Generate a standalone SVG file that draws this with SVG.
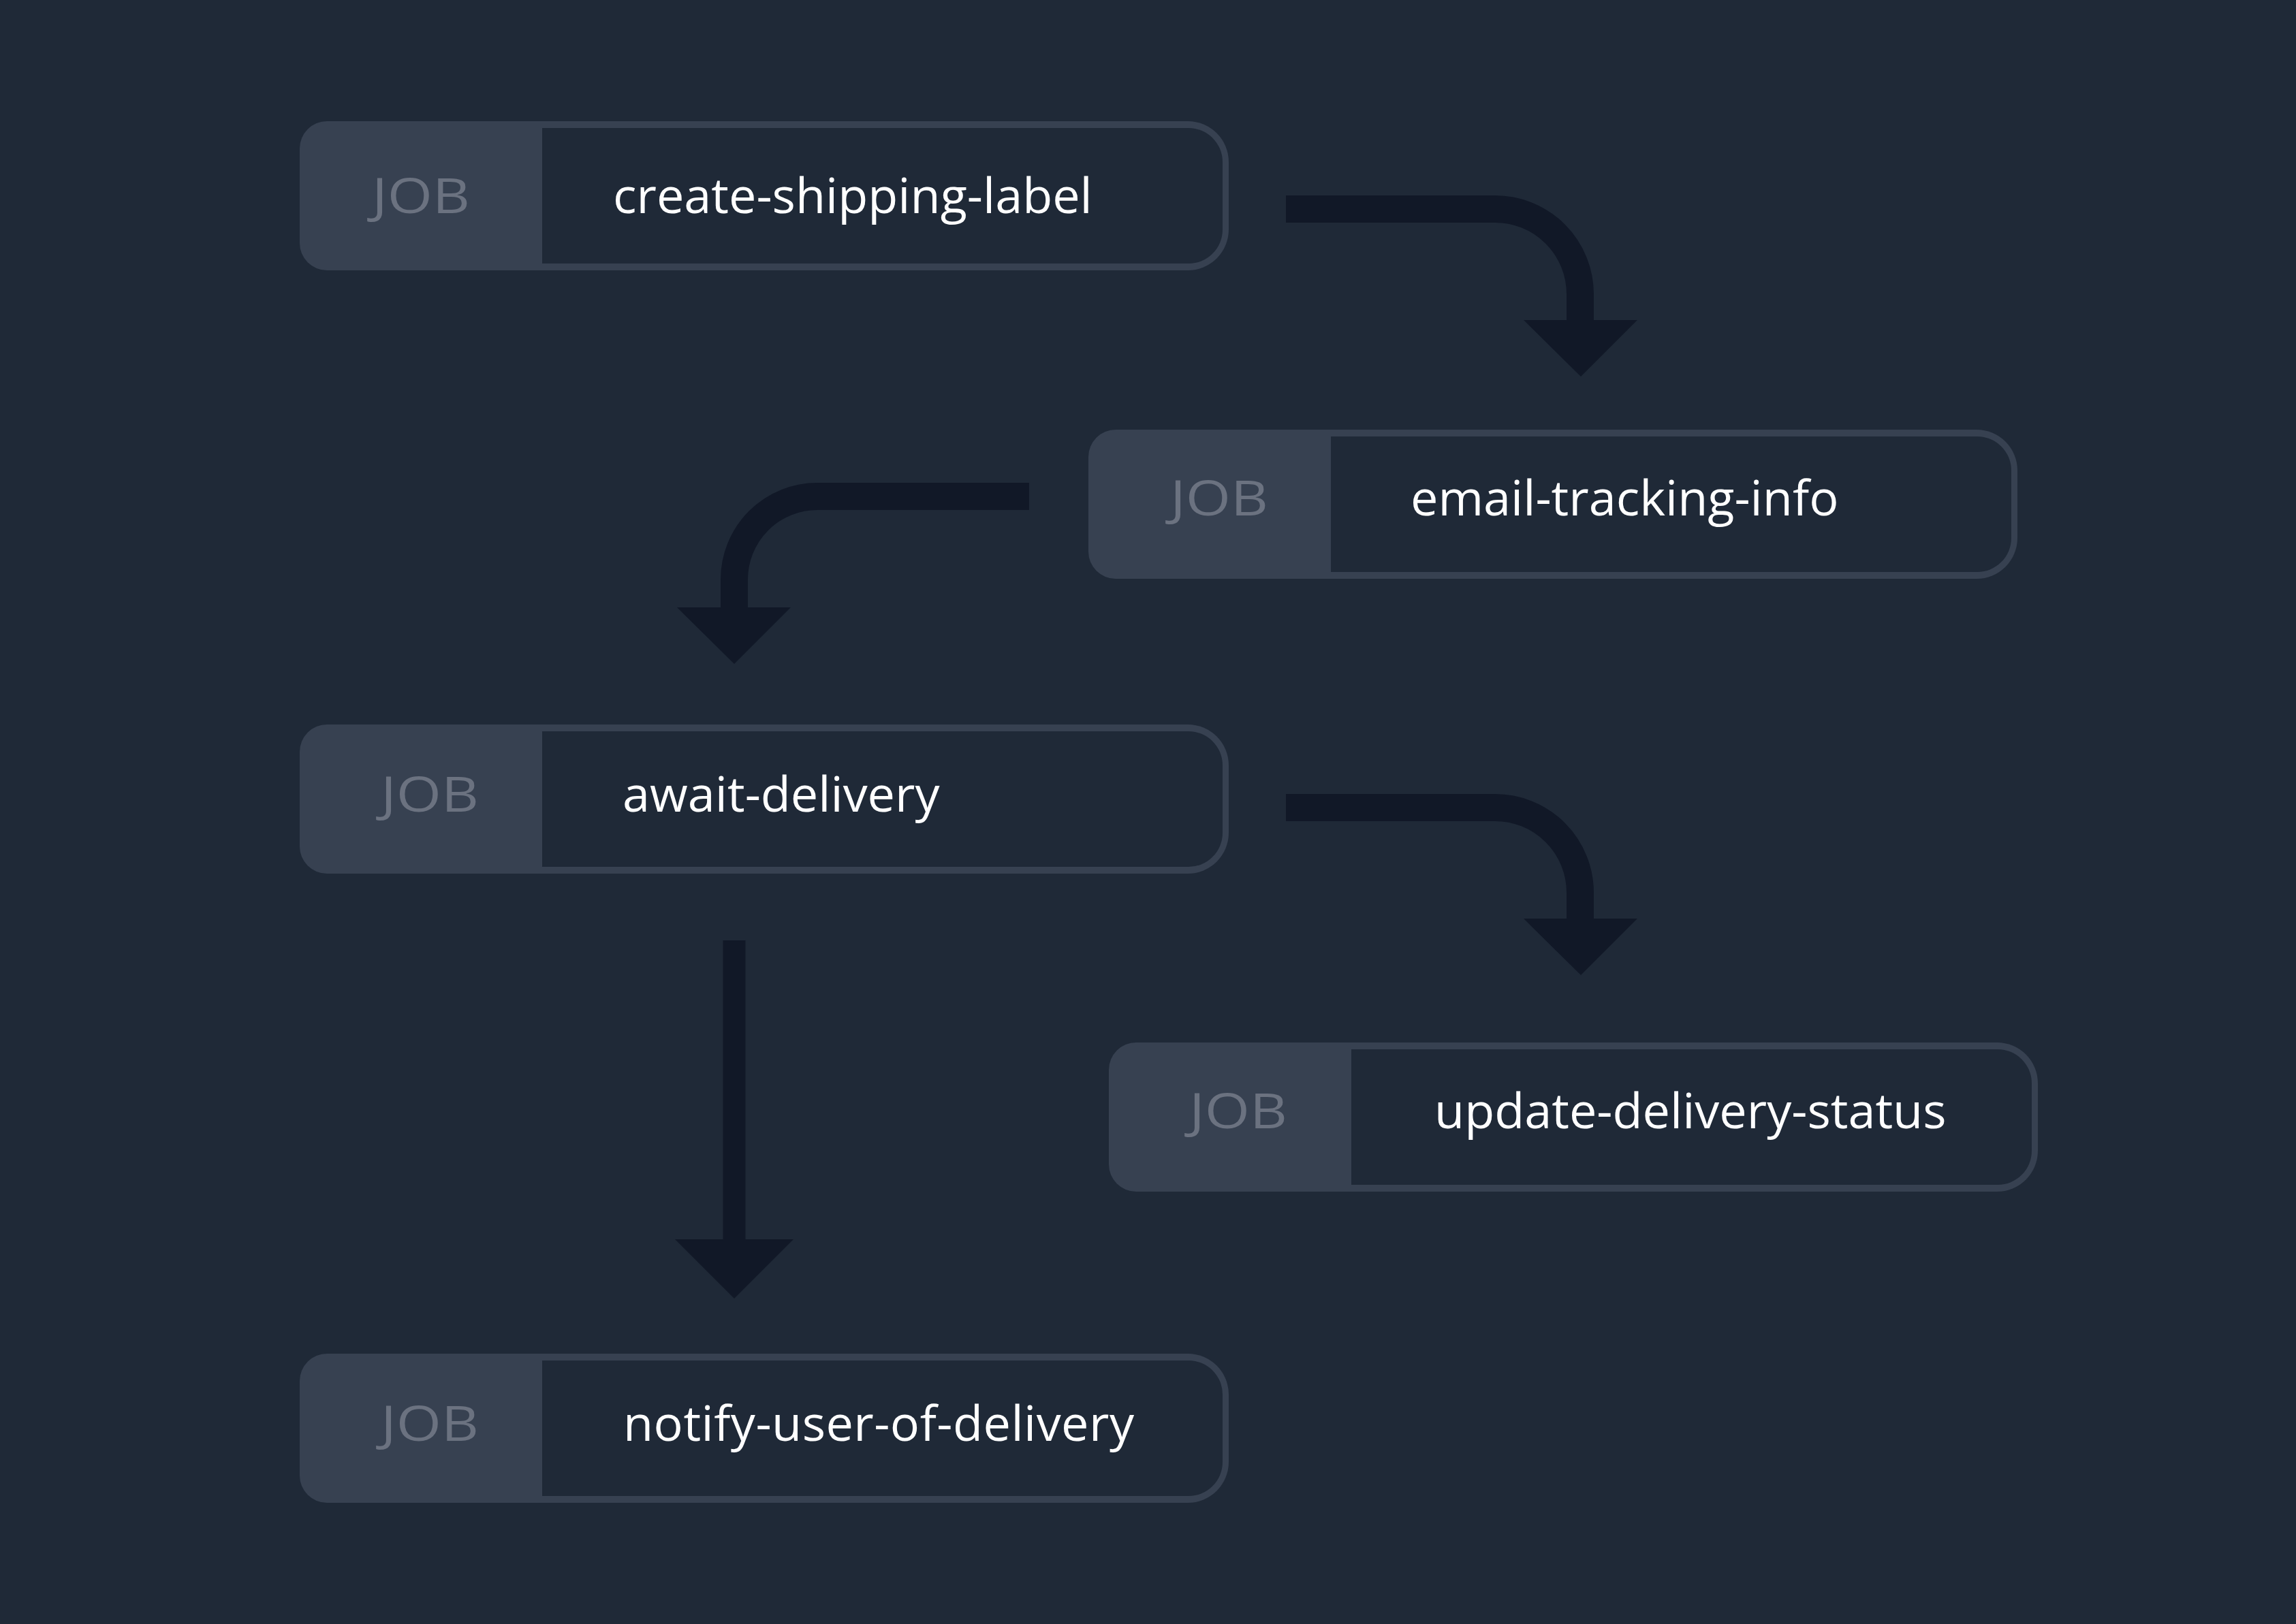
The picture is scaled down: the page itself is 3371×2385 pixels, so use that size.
<svg xmlns="http://www.w3.org/2000/svg" xmlns:xlink="http://www.w3.org/1999/xlink" width="3371" height="2385" viewBox="0 0 3371 2385">
  <style>
    .frame { fill: #374151; }
    .inner { fill: #1f2937; }
    .tag { font-family: "Open Sans", "Liberation Sans", sans-serif; font-size: 72px; fill: #6b7280; text-anchor: middle; }
    .label { font-family: "Open Sans", "Liberation Sans", sans-serif; font-size: 72px; fill: #ffffff; }
    .wire { fill: none; stroke: #111827; stroke-width: 40; stroke-linecap: butt; }
    .head { fill: #111827; }
  </style>
  <defs>
    <g id="nodeShape">
      <path class="frame" d="M40,0 H1304 A60,60 0 0 1 1364,60 V159 A60,60 0 0 1 1304,219 H40 A40,40 0 0 1 0,179 V40 A40,40 0 0 1 40,0 Z"/>
      <path class="inner" d="M356,10 H1305 A50,50 0 0 1 1355,60 V159 A50,50 0 0 1 1305,209 H356 Z"/>
    </g>
  </defs>
  <rect x="0" y="0" width="3371" height="2385" fill="#1f2937"/>

  <g id="connectors">
    <path class="wire" d="M1888,307 H2195 A125,125 0 0 1 2320,432 V472"/>
    <polygon class="head" points="2237,470 2404,470 2321,553"/>

    <path class="wire" d="M1511,729 H1200 A122,122 0 0 0 1078,851 V894"/>
    <polygon class="head" points="994,892 1161,892 1078,975"/>

    <path class="wire" d="M1888,1186 H2195 A125,125 0 0 1 2320,1311 V1351"/>
    <polygon class="head" points="2237,1349 2404,1349 2321,1432"/>

    <path class="wire" style="stroke-width:33" d="M1078,1381 V1822"/>
    <polygon class="head" points="991,1820 1165,1820 1078,1907"/>
  </g>

  <g id="node-create-shipping-label">
    <use xlink:href="#nodeShape" x="440" y="178"/>
    <text class="tag" x="618" y="313" textLength="144" lengthAdjust="spacingAndGlyphs">JOB</text>
    <text class="label" x="900" y="313">create-shipping-label</text>
  </g>

  <g id="node-email-tracking-info">
    <use xlink:href="#nodeShape" x="1598" y="631"/>
    <text class="tag" x="1790" y="757" textLength="144" lengthAdjust="spacingAndGlyphs">JOB</text>
    <text class="label" x="2071" y="757">email-tracking-info</text>
  </g>

  <g id="node-await-delivery">
    <use xlink:href="#nodeShape" x="440" y="1064"/>
    <text class="tag" x="631" y="1192" textLength="144" lengthAdjust="spacingAndGlyphs">JOB</text>
    <text class="label" x="914" y="1192">await-delivery</text>
  </g>

  <g id="node-update-delivery-status">
    <use xlink:href="#nodeShape" x="1628" y="1531"/>
    <text class="tag" x="1818" y="1657" textLength="144" lengthAdjust="spacingAndGlyphs">JOB</text>
    <text class="label" x="2106" y="1657">update-delivery-status</text>
  </g>

  <g id="node-notify-user-of-delivery">
    <use xlink:href="#nodeShape" x="440" y="1988"/>
    <text class="tag" x="631" y="2116" textLength="144" lengthAdjust="spacingAndGlyphs">JOB</text>
    <text class="label" x="915" y="2116" textLength="750">notify-user-of-delivery</text>
  </g>
</svg>
